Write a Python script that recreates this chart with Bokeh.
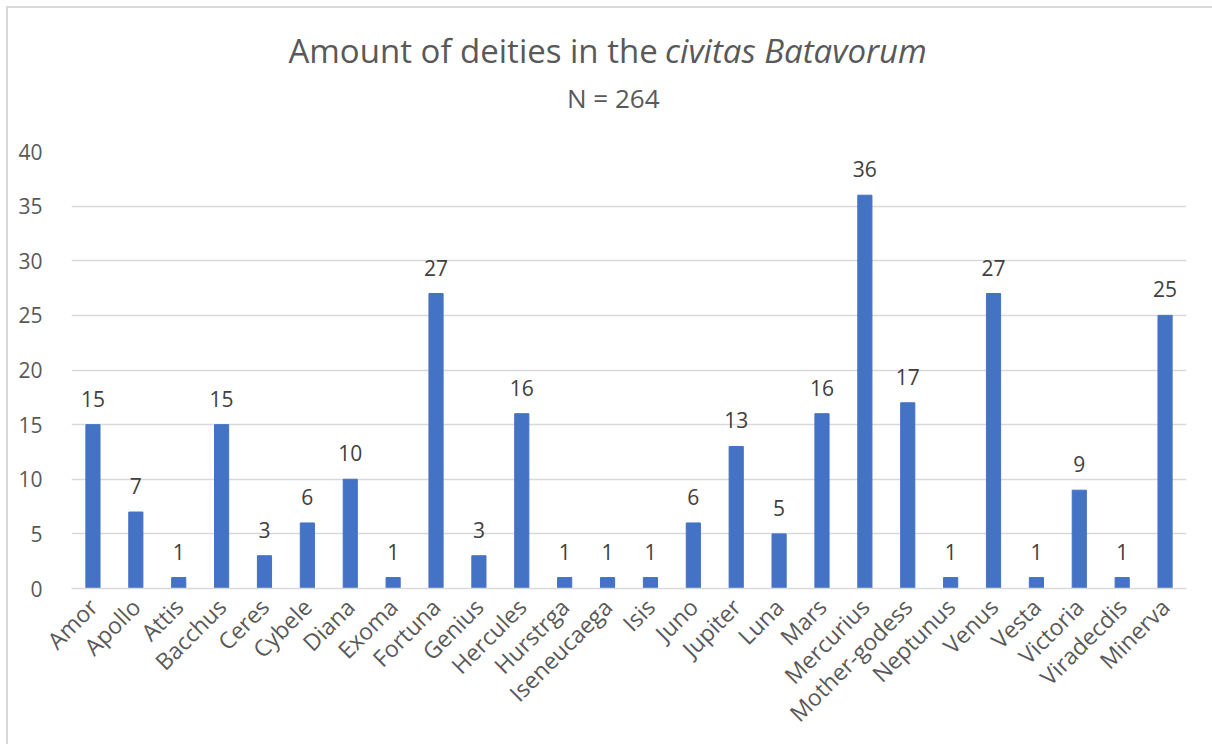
import math

from bokeh.core.properties import value
from bokeh.embed import file_html
from bokeh.layouts import column
from bokeh.models import ColumnDataSource, FactorRange, FixedTicker, Range1d
from bokeh.plotting import figure
from bokeh.resources import INLINE

# Number of attestations per deity
deities = ["Amor", "Apollo", "Attis", "Bacchus", "Ceres", "Cybele", "Diana", "Exoma",
           "Fortuna", "Genius", "Hercules", "Hurstrga", "Iseneucaega", "Isis", "Juno",
           "Jupiter", "Luna", "Mars", "Mercurius", "Mother-godess", "Neptunus", "Venus",
           "Vesta", "Victoria", "Viradecdis", "Minerva"]
counts = [15, 7, 1, 15, 3, 6, 10, 1, 27, 3, 16, 1, 1, 1, 6, 13, 5, 16, 36, 17, 1, 27,
          1, 9, 1, 25]
y_ticks = [0, 5, 10, 15, 20, 25, 30, 35, 40]

title_plain = "Amount of deities in the"
title_italic = "civitas Batavorum"
subtitle = "N = " + str(sum(counts))

FONT = "Open Sans"
TEXT = "#595959"
GRID = "#D9D9D9"
BAR = "#4472C4"

W = 1204
HEAD_H = 125

# --- heading strip: title (with italic place name) and subtitle ---
head = figure(width=W, height=HEAD_H, x_range=Range1d(0, W), y_range=Range1d(HEAD_H, 0),
              output_backend="svg", toolbar_location=None,
              min_border_left=0, min_border_right=0, min_border_top=0, min_border_bottom=0,
              x_axis_location=None, y_axis_location=None,
              background_fill_color="white", border_fill_color="white")
head.outline_line_color = None
head.grid.grid_line_color = None
head.text(x=[633], y=[42], text=[title_plain], text_align="right",
          text_baseline="alphabetic", text_font=value(FONT), text_font_size="33px",
          text_color=TEXT)
head.text(x=[641], y=[42], text=[title_italic], text_align="left",
          text_baseline="alphabetic", text_font=value(FONT), text_font_size="33px",
          text_font_style="italic", text_color=TEXT)
head.text(x=[585], y=[89], text=[subtitle], text_align="center",
          text_baseline="alphabetic", text_font=value(FONT), text_font_size="26px",
          text_color=TEXT)

# --- bar chart ---
src = ColumnDataSource(dict(x=deities, top=counts, label=[str(c) for c in counts]))

p = figure(
    x_range=FactorRange(*deities, range_padding=0),
    y_range=Range1d(0, 40),
    width=W, height=744 - 8 - HEAD_H,
    output_backend="svg", toolbar_location=None,
    min_border_left=63, min_border_right=26,
    min_border_top=143 - HEAD_H, min_border_bottom=156,
    background_fill_color="white", border_fill_color="white",
)
p.outline_line_color = None

p.vbar(x="x", top="top", width=0.33, source=src, color=BAR)
p.text(x="x", y="top", text="label", source=src,
       text_align="center", text_baseline="alphabetic", y_offset=-26,
       text_font=value(FONT), text_font_size="21px", text_color="#404040")

p.xgrid.grid_line_color = None
p.ygrid.grid_line_color = GRID
p.ygrid.grid_line_width = 1.3
p.yaxis.ticker = FixedTicker(ticks=y_ticks)
p.yaxis.axis_line_color = None
p.yaxis.major_tick_line_color = None
p.yaxis.minor_tick_line_color = None
p.yaxis.major_label_standoff = 23
p.yaxis.major_label_text_font = FONT
p.yaxis.major_label_text_font_size = "21px"
p.yaxis.major_label_text_color = TEXT

p.xaxis.axis_line_color = GRID
p.xaxis.axis_line_width = 1.5
p.xaxis.major_tick_line_color = None
p.xaxis.minor_tick_line_color = None
p.xaxis.major_label_orientation = math.pi / 4
p.xaxis.major_label_standoff = 8
p.xaxis.major_label_text_font = FONT
p.xaxis.major_label_text_font_size = "23px"
p.xaxis.major_label_text_color = TEXT

layout = column(head, p, spacing=0)
layout.styles = {"margin-left": "6px", "margin-top": "6px",
                 "border-left": "2px solid #D9D9D9", "border-top": "2px solid #D9D9D9"}

open("out.html", "w").write(file_html(layout, INLINE))
